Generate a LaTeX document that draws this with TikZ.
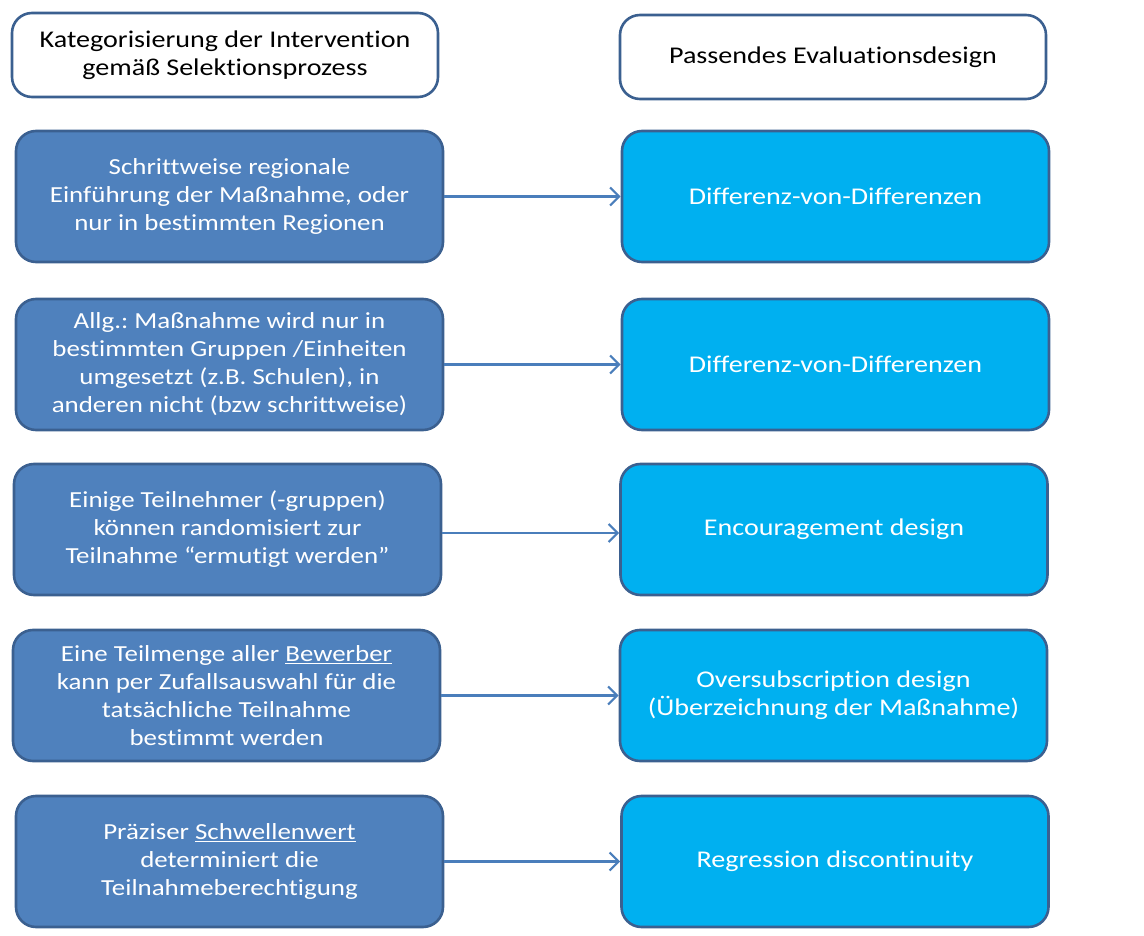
\documentclass[tikz,border=0pt]{standalone}
\usepackage{fontspec}
\setmainfont{Carlito}[FakeStretch=1.17, Ligatures=NoCommon]
\usetikzlibrary{arrows.meta}
\definecolor{leftfill}{HTML}{4F81BD}
\definecolor{rightfill}{HTML}{00B0F0}
\definecolor{boxborder}{HTML}{3B6090}
\definecolor{arrowcol}{HTML}{4A7EBB}
\frenchspacing
\begin{document}
\begin{tikzpicture}[x=1pt,y=-1pt,
  base/.style={draw=boxborder, line width=2.6pt, rounded corners=20pt, align=center, inner sep=0pt},
  headbox/.style={base, fill=white, text=black, minimum width=426pt, minimum height=84pt, font=\fontsize{24}{28}\selectfont},
  leftbox/.style={base, fill=leftfill, text=white, minimum width=427pt, minimum height=131pt, font=\fontsize{23}{28}\selectfont},
  rightbox/.style={base, fill=rightfill, text=white, minimum width=427pt, minimum height=131pt, font=\fontsize{24}{28}\selectfont},
  conn/.style={draw=arrowcol, line width=2.2pt, -{Straight Barb[length=9pt,width=18pt,line width=2.2pt]}}
]
\useasboundingbox (0,0) rectangle (1144,936);
\node[headbox] (h1) at (225,55) {Kategorisierung der Intervention\\gemäß Selektionsprozess};
\node[headbox] (h2) at (833,57) {Passendes Evaluationsdesign};

\node[leftbox] (l1) at (229.5,196.5) {Schrittweise regionale\\Einführung der Maßnahme, oder\\nur in bestimmten Regionen};
\node[rightbox] (r1) at (835.5,196.5) {Differenz-von-Differenzen};

\node[leftbox] (l2) at (229.5,364.5) {Allg.: Maßnahme wird nur in\\bestimmten Gruppen /Einheiten\\umgesetzt (z.B. Schulen), in\\anderen nicht (bzw schrittweise)};
\node[rightbox] (r2) at (835.5,364.5) {Differenz-von-Differenzen};

\node[leftbox] (l3) at (227.5,529.5) {Einige Teilnehmer (-gruppen)\\können randomisiert zur\\Teilnahme “ermutigt werden”};
\node[rightbox] (r3) at (834,529.5) {Encouragement design};

\node[leftbox] (l4) at (226.5,695.5) {Eine Teilmenge aller \underline{Bewerber}\\kann per Zufallsauswahl für die\\tatsächliche Teilnahme\\bestimmt werden};
\node[rightbox] (r4) at (833.5,695.5) {Oversubscription design\\(Überzeichnung der Maßnahme)};

\node[leftbox] (l5) at (229.5,861.5) {Präziser \underline{Schwellenwert}\\determiniert die\\Teilnahmeberechtigung};
\node[rightbox] (r5) at (835,861.5) {Regression discontinuity};

\draw[conn] (l1.east) -- (r1.west);
\draw[conn] (l2.east) -- (r2.west);
\draw[conn] (l3.east |- 0,533) -- (r3.west |- 0,533);
\draw[conn] (l4.east) -- (r4.west);
\draw[conn] (l5.east) -- (r5.west);
\end{tikzpicture}
\end{document}
